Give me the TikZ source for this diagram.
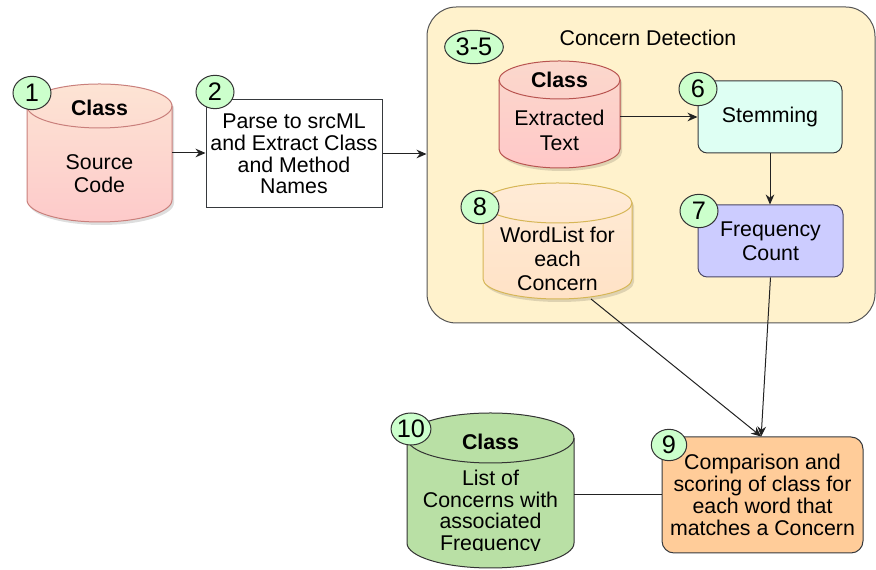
\documentclass[tikz,border=0pt]{standalone}
\usepackage{fontspec}
\setmainfont{Liberation Sans}
\usetikzlibrary{shapes.geometric,arrows.meta,fit}

\definecolor{framefill}{HTML}{FFF2CC}
\definecolor{frameline}{HTML}{555555}
\definecolor{numfill}{HTML}{CCFFCC}
\definecolor{numline}{HTML}{333333}
\definecolor{boxline}{HTML}{36393D}
\definecolor{linkcol}{HTML}{222222}
\definecolor{stemfill}{HTML}{DEFFF3}
\definecolor{freqfill}{HTML}{CCCCFF}
\definecolor{freqline}{HTML}{4A4766}
\definecolor{cmpfill}{HTML}{FFCC99}
\definecolor{srctop}{HTML}{FDE4D4}
\definecolor{srcbot}{HTML}{FDCACA}
\definecolor{srcline}{HTML}{C97F7B}
\definecolor{exttop}{HTML}{FBD8CC}
\definecolor{extbot}{HTML}{FFC8C8}
\definecolor{extline}{HTML}{B85450}
\definecolor{wltop}{HTML}{FFEBD6}
\definecolor{wlbot}{HTML}{FFE2C6}
\definecolor{wlline}{HTML}{D6B656}
\definecolor{resfill}{HTML}{B9E0A5}
\definecolor{resline}{HTML}{333333}

% Cylinder outline: #1 left x, #2 right x, #3 top y, #4 bottom y,
% #5 end-ellipse half height, #6 fill options, #7 stroke colour, #8 shadow opacity
\newcommand\cylbody[8]{%
  \pgfmathsetmacro\cylrx{(#2-#1)/2*0.75}%
  \pgfmathsetmacro\cylry{#5*0.75}%
  \def\cylpath{(#1,#3-#5) -- (#1,#4+#5)
    arc[start angle=180,end angle=360,x radius=\cylrx pt,y radius=\cylry pt]
    -- (#2,#3-#5)
    arc[start angle=0,end angle=180,x radius=\cylrx pt,y radius=\cylry pt] -- cycle}%
  \fill[black,opacity=#8,shift={(2,-3)}] \cylpath;
  \path[#6] \cylpath;
  \draw[#7,line width=0.75pt] \cylpath;
  \draw[#7,line width=0.75pt] (#1,#3-#5)
    arc[start angle=180,end angle=360,x radius=\cylrx pt,y radius=\cylry pt];
}

\begin{document}
\begin{tikzpicture}[x=0.75pt,y=0.75pt,
  txt/.style={font=\fontsize{16}{16.3}\selectfont, align=center, inner sep=0pt, text=black},
  boldtxt/.style={font=\fontsize{16}{16}\selectfont\bfseries, inner sep=0pt, text=black},
  num/.style={ellipse, draw=numline, fill=numfill, line width=0.75pt, inner sep=0pt,
    minimum width=28.5pt, minimum height=25pt, font=\fontsize{19}{19}\selectfont},
  box/.style={draw=boxline, line width=0.75pt},
  arr/.style={draw=linkcol, line width=0.75pt, -{Stealth[length=7.5pt,width=6.5pt]}},
  link/.style={draw=linkcol, line width=0.75pt},
  area/.style={inner sep=0pt, draw=none},
]
\useasboundingbox (0,0) rectangle (876,570);

% Concern detection group
\node[draw=frameline, fill=framefill, line width=0.75pt, rounded corners=22pt,
  minimum width=336pt, minimum height=237pt, inner sep=0pt] (cd) at (651,405) {};
\node[txt] (cdtitle) at (648,532) {Concern Detection};

% 1: class source code
\cylbody{27}{172}{486}{348}{22}{top color=srctop, bottom color=srcbot}{srcline}{0.13}
\node[area, fit={(27,348) (172,486)}] (src) {};
\node[boldtxt] (srccls) at (99.5,462) {Class};
\node[txt, font=\fontsize{16}{17.3}\selectfont] (srctxt) at (99.5,396.5) {Source\\Code};

% 2: parsing step
\node[box, fill=white, txt, minimum width=132pt, minimum height=81pt] (parse) at (294,416)
  {Parse to srcML\\and Extract Class\\and Method\\Names};

% extracted text
\cylbody{499}{620}{509}{402}{19}{top color=exttop, bottom color=extbot}{extline}{0.13}
\node[area, fit={(499,402) (620,509)}] (ext) {};
\node[boldtxt] (extcls) at (559.5,490) {Class};
\node[txt, font=\fontsize{16}{18.8}\selectfont] (exttxt) at (559.5,440) {Extracted\\Text};

% 6: stemming
\node[box, fill=stemfill, rounded corners=7pt, txt, minimum width=108pt, minimum height=54pt]
  (stem) at (770,453) {Stemming};

% 7: frequency count
\node[draw=freqline, line width=0.75pt, fill=freqfill, rounded corners=7pt, txt,
  font=\fontsize{16}{18}\selectfont, minimum width=108.75pt, minimum height=54pt]
  (freq) at (770.5,329) {Frequency\\Count};

% 8: word lists
\cylbody{483}{632}{387}{271}{20}{top color=wltop, bottom color=wlbot}{wlline}{0.13}
\node[area, fit={(483,271) (632,387)}] (wl) {};
\node[txt, font=\fontsize{16}{18}\selectfont] (wltxt) at (557.5,311)
  {WordList for\\each\\Concern};

% 9: comparison and scoring
\node[box, fill=cmpfill, rounded corners=9pt, txt, font=\fontsize{16}{16.5}\selectfont,
  minimum width=150.75pt, minimum height=87pt] (cmp) at (762.5,75)
  {Comparison and\\scoring of class for\\each word that\\matches a Concern};

% 10: resulting concern list
\cylbody{407}{574}{157}{2}{25}{fill=resfill}{resline}{0.0}
\node[area, fit={(407,2) (574,157)}] (res) {};
\node[boldtxt] (rescls) at (490.5,128) {Class};
\begin{scope}
  \clip (400,19) rectangle (580,110);
  \node[txt] (restxt) at (490.5,57.5) {List of\\Concerns with\\associated\\Frequency};
\end{scope}

% connectors
\coordinate (wlout) at (591,271);
\draw[arr] (src.east) -- (src.east -| parse.west);
\draw[arr] (parse.east) -- (parse.east -| cd.west);
\draw[arr] (ext.east |- stem.west) -- (stem.west);
\draw[arr] (stem.south) -- (stem.south |- freq.north);
\draw[arr] (wlout) -- ([xshift=-1pt]cmp.north);
\draw[arr] (freq.south) -- ([xshift=-1pt]cmp.north);
\draw[link] (cmp.west) -- (cmp.west -| res.east);

% step numbers
\node[num] (n1) at (32,477) {1};
\node[num] (n2) at (215,478) {2};
\node[num, minimum width=44pt] (n35) at (474,523) {3-5};
\node[num] (n6) at (698,481) {6};
\node[num] (n7) at (699,359) {7};
\node[num] (n8) at (480,363) {8};
\node[num, minimum width=26.5pt, minimum height=23.5pt] (n9) at (669,125) {9};
\node[num, minimum height=24pt] (n10) at (411,141) {10};
\end{tikzpicture}
\end{document}
